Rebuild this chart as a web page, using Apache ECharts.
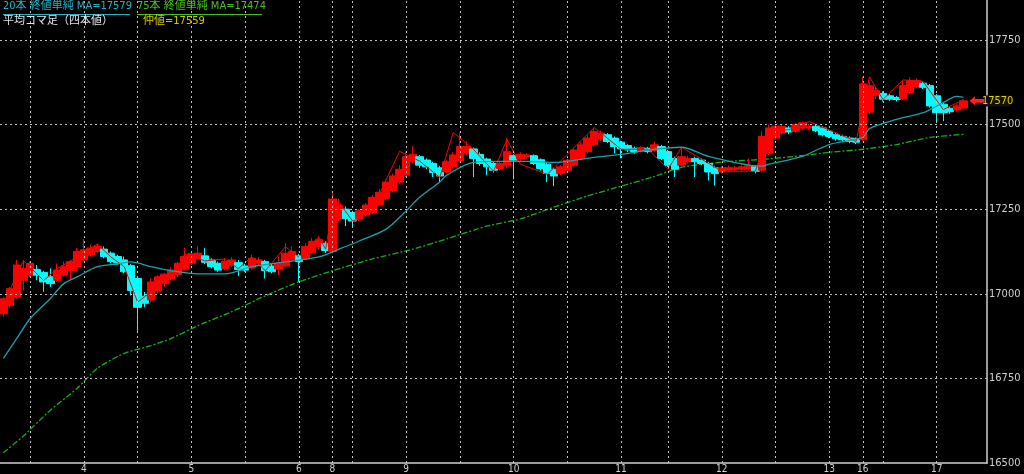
<!DOCTYPE html>
<html><head><meta charset="utf-8">
<script src="https://cdn.jsdelivr.net/npm/echarts/dist/echarts.min.js"></script>
<style>html,body{margin:0;padding:0;background:#000;}#c{width:1024px;height:474px;}</style>
</head><body><div id="c"></div>
<script>
const CATEGORY_COUNT = 147;
const dayLabels = [[12,'4'],[28,'5'],[44,'6'],[49,'8'],[60,'9'],[76,'10'],[92,'11'],[107,'12'],[123,'13'],[128,'16'],[139,'17']];
const vGridIdx = [4,12,20,28,36,44,49,52,60,68,76,84,92,99,107,115,123,128,131,139];
const yGridValues = [16750,17000,17250,17500,17750];
const yMin = 16500, yMax = 17868, yStep = 250;
const lastPrice = 17570;
const ma20Last = 17579, ma75Last = 17474, midValue = 17559;

// Heikin-Ashi candles: [open, close, low, high]
const candles = [
[16941,16985,16932,16990],[16965,17015,16960,17020],[16990,17085,16985,17100],[17040,17075,17010,17100],
[17055,17090,17050,17095],[17072,17055,17040,17085],[17063,17035,17006,17068],[17050,17030,17020,17075],
[17040,17070,17035,17090],[17055,17080,17050,17095],[17068,17095,17040,17100],[17080,17125,17065,17135],
[17100,17130,17095,17162],[17115,17135,17110,17145],[17125,17140,17120,17148],[17132,17110,17105,17140],
[17120,17095,17090,17125],[17110,17092,17085,17115],[17100,17065,17060,17110],[17083,17010,16995,17088],
[17045,16960,16888,17050],[16993,16972,16960,17005],[16982,17035,16975,17045],[17008,17050,17000,17055],
[17030,17058,17020,17062],[17044,17070,17040,17078],[17057,17090,17050,17095],[17073,17110,17068,17135],
[17090,17118,17085,17125],[17104,17120,17100,17140],[17112,17093,17088,17135],[17100,17080,17075,17105],
[17090,17070,17065,17095],[17075,17095,17070,17105],[17085,17100,17080,17108],[17092,17072,17053,17100],
[17082,17070,17065,17088],[17076,17105,17070,17115],[17090,17100,17085,17108],[17095,17068,17045,17100],
[17082,17065,17060,17088],[17073,17090,17055,17110],[17082,17120,17078,17150],[17101,17125,17095,17140],
[17113,17095,17035,17118],[17104,17140,17100,17150],[17122,17155,17118,17165],[17138,17160,17132,17170],
[17149,17128,17120,17155],[17125,17280,17120,17300],[17221,17262,17215,17280],[17250,17222,17200,17258],
[17240,17215,17196,17245],[17222,17245,17215,17250],[17233,17262,17228,17268],[17240,17285,17235,17292],
[17262,17300,17258,17310],[17282,17330,17278,17338],[17305,17348,17300,17355],[17330,17368,17325,17380],
[17350,17405,17345,17420],[17390,17412,17385,17436],[17405,17380,17372,17410],[17395,17375,17368,17400],
[17385,17358,17345,17390],[17372,17348,17330,17378],[17360,17390,17355,17395],[17375,17410,17370,17418],
[17392,17435,17388,17477],[17415,17435,17410,17450],[17428,17400,17345,17432],[17412,17385,17378,17418],
[17398,17375,17350,17402],[17385,17365,17358,17390],[17370,17385,17365,17392],[17378,17420,17372,17460],
[17408,17395,17338,17412],[17398,17412,17392,17418],[17405,17410,17400,17416],[17408,17385,17380,17412],
[17396,17370,17364,17400],[17383,17355,17330,17388],[17368,17348,17318,17372],[17355,17375,17350,17380],
[17365,17395,17360,17400],[17380,17425,17375,17432],[17400,17440,17395,17448],[17420,17460,17415,17468],
[17440,17480,17435,17491],[17458,17475,17452,17482],[17470,17450,17445,17475],[17460,17435,17415,17465],
[17448,17428,17400,17452],[17438,17425,17418,17442],[17430,17420,17414,17435],[17422,17432,17418,17436],
[17430,17420,17415,17434],[17423,17440,17420,17450],[17435,17400,17395,17440],[17420,17380,17375,17425],
[17400,17368,17345,17405],[17380,17405,17375,17433],[17390,17400,17385,17408],[17400,17390,17345,17405],
[17395,17385,17380,17400],[17385,17360,17335,17390],[17372,17355,17320,17378],[17360,17372,17355,17378],
[17365,17372,17360,17378],[17368,17372,17362,17378],[17368,17375,17362,17380],[17370,17378,17365,17400],
[17375,17362,17356,17380],[17365,17465,17360,17480],[17415,17490,17410,17500],[17460,17495,17455,17502],
[17475,17495,17470,17500],[17490,17478,17472,17495],[17480,17500,17475,17505],[17490,17505,17485,17509],
[17490,17495,17485,17502],[17495,17482,17478,17500],[17490,17470,17465,17495],[17480,17465,17460,17485],
[17470,17458,17452,17475],[17465,17455,17450,17470],[17460,17450,17445,17465],[17458,17448,17442,17462],
[17455,17620,17450,17641],[17537,17615,17530,17625],[17585,17600,17575,17610],[17592,17575,17568,17598],
[17585,17575,17570,17590],[17580,17574,17568,17585],[17576,17615,17572,17630],[17595,17630,17590,17640],
[17612,17630,17608,17636],[17622,17610,17605,17627],[17615,17555,17550,17620],[17585,17535,17505,17590],
[17560,17535,17510,17565],[17548,17538,17532,17552],[17543,17555,17538,17560],[17549,17570,17545,17575]
];

// [category index, value]
const ma20 = [[0,16809],[2,16868],[4,16927],[7,16986],[9,17030],[11,17050],[14,17080],[17,17088],[19,17094],
[22,17080],[25,17068],[29,17059],[33,17059],[37,17080],[42,17094],[47,17109],[50,17132],[53,17156],[57,17191],
[60,17245],[62,17285],[65,17330],[66,17350],[70,17388],[74,17391],[78,17391],[82,17388],[88,17403],[92,17412],
[97,17427],[101,17433],[105,17406],[113,17377],[114,17383],[119,17406],[123,17441],[128,17462],[129,17488],
[133,17515],[137,17535],[140,17565],[142,17583],[143,17580]];
const ma75 = [[0,16530],[3,16580],[7,16656],[11,16721],[14,16780],[18,16824],[22,16847],[25,16868],[29,16906],
[34,16947],[39,16994],[44,17035],[49,17068],[55,17103],[61,17132],[66,17162],[72,17200],[77,17221],[82,17256],
[87,17289],[92,17318],[97,17347],[101,17374],[108,17391],[113,17397],[118,17406],[123,17418],[128,17427],
[133,17441],[138,17462],[143,17471]];
const rawClose = [[0,16970],[3,17098],[6,17039],[8,17074],[11,17109],[14,17147],[16,17109],[18,17080],[20,16975],
[22,17006],[26,17074],[27,17118],[30,17097],[33,17103],[35,17074],[37,17109],[39,17068],[42,17139],[44,17109],
[47,17168],[48,17132],[49,17250],[50,17270],[52,17215],[53,17221],[56,17294],[59,17421],[62,17392],[65,17344],
[67,17477],[70,17427],[73,17362],[75,17456],[77,17383],[81,17353],[88,17491],[92,17427],[96,17427],[99,17368],
[101,17433],[107,17362],[112,17362],[114,17480],[117,17485],[120,17509],[127,17450],[129,17641],[131,17574],
[134,17632],[137,17627],[140,17544],[143,17574]];

const categories = Array.from({length: CATEGORY_COUNT}, (_, i) => String(i));
const labelMap = Object.fromEntries(dayLabels);

const chart = echarts.init(document.getElementById('c'), null, {renderer: 'canvas'});
const legendFont = "'DejaVu Sans Condensed','Noto Sans CJK JP',sans-serif";
const narrowFont = "'Liberation Sans Narrow','DejaVu Sans Condensed',sans-serif";
chart.setOption({
  backgroundColor: '#000',
  animation: false,
  grid: {left: 0, right: 37, top: 0, bottom: 9, containLabel: false},
  xAxis: {
    type: 'category', data: categories, boundaryGap: true,
    axisLine: {show: true, lineStyle: {color: '#d0d0d0', width: 1.5}},
    axisTick: {show: false},
    splitLine: {show: false},
    axisLabel: {
      interval: (i) => labelMap[i] !== undefined,
      formatter: (v, i) => labelMap[i] || '',
      color: '#d0d0d0', fontSize: 10, margin: 1, fontFamily: narrowFont
    }
  },
  yAxis: {
    type: 'value', position: 'right', min: yMin, max: yMax, interval: yStep,
    axisLine: {show: true, lineStyle: {color: '#d0d0d0', width: 1.5}},
    axisTick: {show: false},
    splitLine: {show: false},
    axisLabel: {color: '#d0d0d0', fontSize: 11, margin: 2, showMaxLabel: false,
      formatter: (v) => String(v), fontFamily: narrowFont}
  },
  graphic: [
    {type: 'text', left: 3, top: 1, z: 100, style: {text: '20本 終値単純 MA=' + ma20Last, fill: '#26b4c4', font: '11px ' + legendFont}},
    {type: 'line', z: 100, shape: {x1: 3, y1: 14.5, x2: 130, y2: 14.5}, style: {stroke: '#26b4c4', lineWidth: 1}},
    {type: 'text', left: 137, top: 1, z: 100, style: {text: '75本 終値単純 MA=' + ma75Last, fill: '#48c020', font: '11px ' + legendFont}},
    {type: 'line', z: 100, shape: {x1: 137, y1: 14.5, x2: 262, y2: 14.5}, style: {stroke: '#48c020', lineWidth: 1}},
    {type: 'text', left: 3, top: 16, z: 100, style: {text: '平均コマ足（四本値）', fill: '#e6e6e6', font: '11px ' + legendFont}},
    {type: 'text', left: 143, top: 16, z: 100, style: {text: '仲値=' + midValue, fill: '#d8c800', font: '11px ' + legendFont}}
  ],
  series: [
    {
      type: 'line', data: [], z: 1, silent: true,
      markLine: {
        silent: true, symbol: ['none', 'none'], label: {show: false}, animation: false,
        lineStyle: {color: '#c0c0c0', type: [2, 3], width: 1},
        data: vGridIdx.map(i => ({xAxis: i})).concat(yGridValues.map(v => ({yAxis: v})))
      }
    },
    {
      type: 'line', data: ma75, z: 2, showSymbol: false, connectNulls: true, smooth: 0.2,
      lineStyle: {color: '#16b016', width: 1.3, type: [6, 2, 2, 2]}
    },
    {
      type: 'candlestick', data: candles, z: 3, barWidth: 8,
      itemStyle: {color: '#ff0000', color0: '#00ffff', borderColor: '#ff0000', borderColor0: '#00ffff', borderWidth: 1},
      markPoint: {
        silent: true, animation: false,
        data: [
          {coord: [145, lastPrice], symbol: 'path://M0,5 L6,0 L6,3 L16,3 L16,7 L6,7 L6,10 Z', symbolSize: [15, 9],
           itemStyle: {color: '#ff2020'}, label: {show: false}},
          {coord: [146, lastPrice], symbol: 'rect', symbolSize: [26, 11], symbolOffset: [14, 0],
           itemStyle: {color: '#141400'},
           label: {show: true, position: 'inside', formatter: String(lastPrice), color: '#e0d000', fontSize: 11,
             fontFamily: narrowFont}}
        ]
      }
    },
    {
      type: 'line', data: rawClose, z: 4, showSymbol: false, connectNulls: true,
      lineStyle: {color: '#ff0000', width: 1}
    },
    {
      type: 'line', data: ma20, z: 5, showSymbol: false, connectNulls: true, smooth: 0.3,
      lineStyle: {color: '#1aa3a8', width: 1.3}
    }
  ]
});
</script>
</body></html>
